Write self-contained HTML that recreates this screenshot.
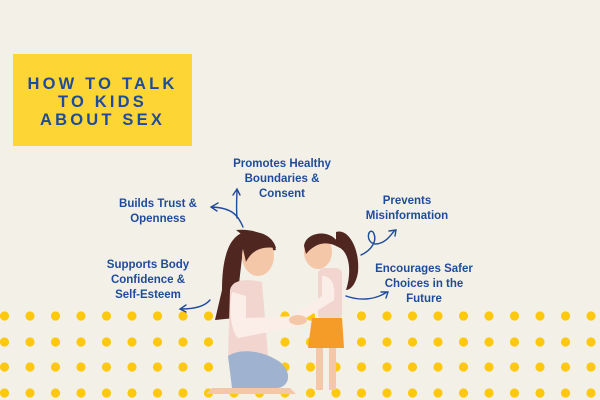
<!DOCTYPE html>
<html><head><meta charset="utf-8"><style>
html,body{margin:0;padding:0}
body{width:600px;height:400px;background:#f3f0e8;position:relative;overflow:hidden;font-family:"Liberation Sans",sans-serif}
.t{position:absolute;color:#1f4c9a;font-weight:bold;font-size:11.5px;line-height:15px;text-align:center;white-space:nowrap}
#title{position:absolute;left:13px;top:54px;width:179px;height:92px;background:#fdd535;color:#1f4c9a;font-weight:bold;font-size:16.5px;letter-spacing:3.2px;line-height:18px;text-align:center;padding-top:21px;box-sizing:border-box}
svg{position:absolute;left:0;top:0}
</style></head><body>
<svg width="600" height="400">
<g fill="#fdc80e" id="dots"></g>
</svg>
<div id="title">HOW TO TALK<br>TO KIDS<br>ABOUT SEX</div>
<div class="t" style="left:222px;top:157px;width:120px">Promotes Healthy<br>Boundaries &amp;<br>Consent</div>
<div class="t" style="left:108px;top:197px;width:100px">Builds Trust &amp;<br>Openness</div>
<div class="t" style="left:98px;top:258px;width:100px">Supports Body<br>Confidence &amp;<br>Self-Esteem</div>
<div class="t" style="left:352px;top:194px;width:110px">Prevents<br>Misinformation</div>
<div class="t" style="left:366px;top:262px;width:116px">Encourages Safer<br>Choices in the<br>Future</div>
<svg width="600" height="400">
<g fill="none" stroke="#1f4c9a" stroke-width="1.4" stroke-linecap="round">
<path d="M243 227 C238 215 232 208 212 207 M218 203 L211 207 L217 211"/>
<path d="M237 218 C236 205 237 196 237 190 M233 195 L237 189 L240 195"/>
<path d="M210 300 C205 306 195 309 181 309 M186 305 L180 309 L186 312"/>
<path d="M361 255 C372 250 378 240 373 232 C368 228 365 242 375 244 C385 244 390 236 395 230 M389 231 L396 230 L395 236"/>
<path d="M346 296 C360 301 375 300 387 292 M381 292 L388 292 L386 298"/>
</g>
<!-- woman -->
<path d="M245 232 C228 236 222 260 222 290 L215 320 L235 318 Z" fill="#4f2720"/>
<path d="M236 230 C255 228 272 236 276 250 L264 252 Z" fill="#4f2720"/>
<ellipse cx="258" cy="256" rx="16" ry="20" fill="#f5c7a9"/>
<path d="M240 236 C250 228 272 232 276 248 C262 246 252 250 246 262 Z" fill="#4f2720"/>
<path d="M230 290 C232 280 245 278 262 282 L268 355 L228 358 Z" fill="#f2d5cf"/>
<path d="M232 292 C228 312 232 332 238 338 L300 326 L298 316 L246 318 L246 296 Z" fill="#fbeee9"/>
<path d="M228 356 C240 348 262 350 280 362 C292 372 290 386 278 388 L232 388 Z" fill="#9fb2cf"/>
<path d="M212 388 L290 388 L296 394 L206 394 Z" fill="#f5c7a9"/>
<!-- girl -->
<path d="M336 232 C348 228 360 248 358 272 C356 285 350 290 346 290 C352 272 350 250 336 246 Z" fill="#4f2720"/>
<ellipse cx="318" cy="252" rx="14" ry="17" fill="#f5c7a9"/>
<path d="M304 246 C306 230 336 228 340 248 C330 242 318 240 306 254 Z" fill="#4f2720"/>
<rect x="318" y="268" width="24" height="52" rx="6" fill="#f2d5cf"/>
<path d="M322 276 C330 276 336 282 334 300 L300 322 L294 316 L322 296 Z" fill="#fbeee9"/>
<path d="M312 318 L342 318 L344 348 L308 348 Z" fill="#f49c27"/>
<rect x="316" y="348" width="7" height="42" fill="#f5c7a9"/>
<rect x="329" y="348" width="7" height="42" fill="#f5c7a9"/>
<ellipse cx="298" cy="320" rx="9" ry="5" fill="#f5c7a9"/>
</svg>
<script>
var g=document.getElementById('dots'),s='';
for(var r=0;r<4;r++)for(var c=0;c<24;c++)s+='<circle cx="'+(4.5+c*25.5)+'" cy="'+[316,342,367,393][r]+'" r="4.6"/>';
g.innerHTML=s;
</script>
</body></html>
